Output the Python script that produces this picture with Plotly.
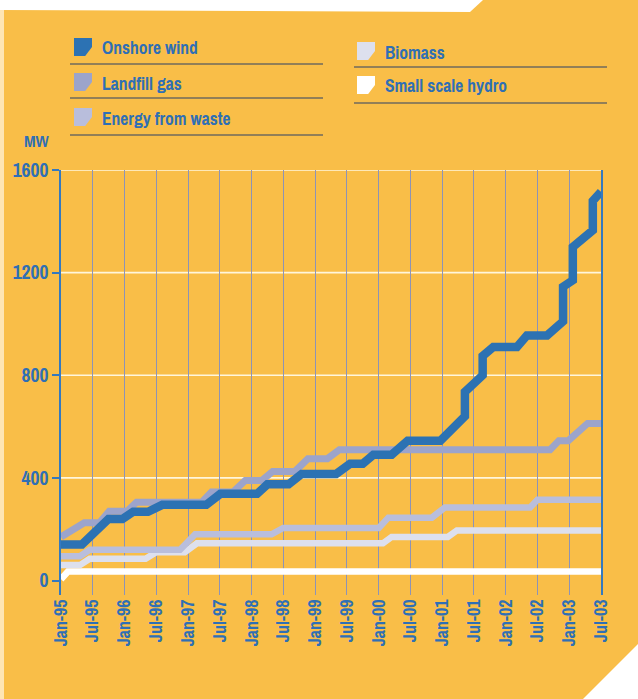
import plotly.graph_objects as go

# Cumulative installed capacity (MW) by renewable technology
wind_dates = ["1995-01-01", "1995-05-01", "1995-10-01", "1995-12-20", "1996-02-20",
              "1996-05-15", "1996-08-05", "1997-04-15", "1997-07-05", "1998-02-01",
              "1998-04-01", "1998-08-01", "1998-10-15", "1999-05-01", "1999-07-20",
              "1999-10-01", "1999-12-01", "2000-03-15", "2000-06-15", "2000-12-20",
              "2001-05-10", "2001-05-10", "2001-08-20", "2001-08-20", "2001-10-20",
              "2002-03-05", "2002-05-01", "2002-08-25", "2002-11-25", "2002-11-25",
              "2003-01-20", "2003-01-20", "2003-05-15", "2003-05-15", "2003-07-01"]
wind_mw = [140, 140, 240, 240, 268,
           268, 295, 295, 338, 338,
           375, 375, 415, 415, 455,
           455, 490, 490, 545, 545,
           640, 735, 800, 875, 910,
           910, 955, 955, 1010, 1145,
           1170, 1300, 1365, 1480, 1515]

landfill_dates = ["1995-01-01", "1995-05-15", "1995-08-10", "1995-10-05", "1996-01-15",
                  "1996-03-10", "1997-03-20", "1997-05-15", "1997-09-15", "1997-11-25",
                  "1998-02-28", "1998-05-01", "1998-09-05", "1998-11-20", "1999-03-12",
                  "1999-05-20", "2002-09-12", "2002-11-01", "2002-12-25", "2003-04-15",
                  "2003-07-01"]
landfill_mw = [170, 225, 225, 270, 270,
               305, 305, 345, 345, 390,
               390, 425, 425, 475, 475,
               510, 510, 545, 545, 612,
               612]

waste_dates = ["1995-01-01", "1995-04-20", "1995-06-15", "1996-11-15", "1997-02-10",
               "1998-04-25", "1998-07-01", "2000-01-01", "2000-02-25", "2000-11-01",
               "2001-01-15", "2002-05-20", "2002-07-01", "2003-07-01"]
waste_mw = [95, 95, 120, 120, 180,
            180, 205, 205, 245, 245,
            285, 285, 315, 315]

biomass_dates = ["1995-01-01", "1995-04-20", "1995-06-15", "1996-05-01", "1996-07-01",
                 "1996-12-12", "1997-02-20", "2000-01-25", "2000-03-15", "2001-02-01",
                 "2001-03-25", "2003-07-01"]
biomass_mw = [60, 60, 85, 85, 110,
              110, 145, 145, 170, 170,
              195, 195]

hydro_dates = ["1995-01-01", "1995-02-10", "2003-07-01"]
hydro_mw = [5, 35, 35]

y_ticks = [0, 400, 800, 1200, 1600]

BG = "#F9BE48"
TEXT = "#2F6FB5"
FONT = "Archivo Narrow, Liberation Sans Narrow, Barlow Semi Condensed, DejaVu Sans Condensed, sans-serif"

series = [
    ("Small scale hydro", hydro_dates, hydro_mw, "#FFFFFF", 6.5),
    ("Biomass", biomass_dates, biomass_mw, "#DDE0EE", 6.5),
    ("Energy from waste", waste_dates, waste_mw, "#B9BEDC", 6.5),
    ("Landfill gas", landfill_dates, landfill_mw, "#9CA4CB", 7),
    ("Onshore wind", wind_dates, wind_mw, "#2C72B3", 8.5),
]

# Canvas / plot-area geometry in pixels
W, H = 638, 699
L, R, T, B = 61, 601, 170, 595


def px(x):
    return (x - L) / (R - L)


def py(y):
    return (B - y) / (B - T)


def poly(points):
    return "M " + " L ".join(f"{px(x):.5f},{py(y):.5f}" for x, y in points) + " Z"


fig = go.Figure()
for name, d, v, color, width in series:
    fig.add_trace(go.Scatter(x=d, y=v, mode="lines", name=name,
                             line=dict(color=color, width=width),
                             showlegend=False, hoverinfo="x+y+name"))

shapes = []
# White horizontal gridlines
for val in y_ticks[1:]:
    shapes.append(dict(type="line", xref="paper", yref="y", x0=0, x1=1, y0=val, y1=val,
                       line=dict(color="#FFF6DC", width=1.6), layer="below"))

# Page edges around the orange panel
shapes.append(dict(type="path", xref="paper", yref="paper",
                   path=poly([(0, 0), (483, 0), (470, 12), (0, 10)]),
                   fillcolor="#FFFFFF", line=dict(width=0), layer="below"))
shapes.append(dict(type="path", xref="paper", yref="paper",
                   path=poly([(583, 699), (638, 699), (638, 644)]),
                   fillcolor="#FFFFFF", line=dict(width=0), layer="below"))
shapes.append(dict(type="path", xref="paper", yref="paper",
                   path=poly([(0, 10), (4, 10), (4, 699), (0, 699)]),
                   fillcolor="rgba(255,236,200,0.85)", line=dict(width=0), layer="below"))

# Legend: swatches, labels and rules
legend_items = [
    ("Onshore wind", "#2C72B3", 74, 100, 48, 64, 70, 323),
    ("Landfill gas", "#9CA4CB", 74, 100, 83, 98, 70, 323),
    ("Energy from waste", "#B9BEDC", 74, 100, 118, 135, 70, 323),
    ("Biomass", "#DDE0EE", 357, 383, 52, 67, 354, 607),
    ("Small scale hydro", "#FFFFFF", 357, 383, 86, 103, 354, 607),
]
annotations = []
s = 18
for label, color, sx, tx, ty, uy, ux0, ux1 in legend_items:
    top = ty - 10
    shapes.append(dict(type="path", xref="paper", yref="paper",
                       path=poly([(sx, top), (sx + s, top), (sx + s, top + 0.5 * s),
                                  (sx + 0.62 * s, top + s), (sx, top + s)]),
                       fillcolor=color, line=dict(width=0)))
    shapes.append(dict(type="line", xref="paper", yref="paper",
                       x0=px(ux0), x1=px(ux1), y0=py(uy), y1=py(uy),
                       line=dict(color="#6F6A5C", width=1.3)))
    annotations.append(dict(text=label, xref="paper", yref="paper", x=px(tx), y=py(ty),
                            xanchor="left", yanchor="middle", showarrow=False,
                            font=dict(family=FONT, size=17.5, color=TEXT, weight="bold")))

annotations.append(dict(text="MW", xref="paper", yref="paper", x=px(37), y=py(140),
                        xanchor="center", yanchor="middle", showarrow=False,
                        font=dict(family=FONT, size=17, color=TEXT, weight="bold")))

fig.update_layout(
    width=W, height=H,
    margin=dict(l=L, r=W - R, t=T, b=H - B, pad=0),
    paper_bgcolor=BG, plot_bgcolor=BG,
    shapes=shapes, annotations=annotations,
    showlegend=False,
    xaxis=dict(type="date", range=["1995-01-01", "2003-07-01"],
               tick0="1995-01-01", dtick="M6", tickformat="%b-%y",
               tickangle=-90, showgrid=True, gridcolor="#8D93B6", gridwidth=1,
               zeroline=False, showline=False, ticks="",
               tickfont=dict(family=FONT, size=18, color=TEXT, weight="bold")),
    yaxis=dict(range=[-56.5, 1600], tickvals=y_ticks, showgrid=False, zeroline=False,
               showline=True, linecolor="#3479C0", linewidth=1.6, mirror=True,
               ticks="outside", ticklen=7, tickwidth=1.6, tickcolor="#3479C0",
               tickfont=dict(family=FONT, size=19.5, color=TEXT, weight="bold")),
)

fig.write_html("out.html")
